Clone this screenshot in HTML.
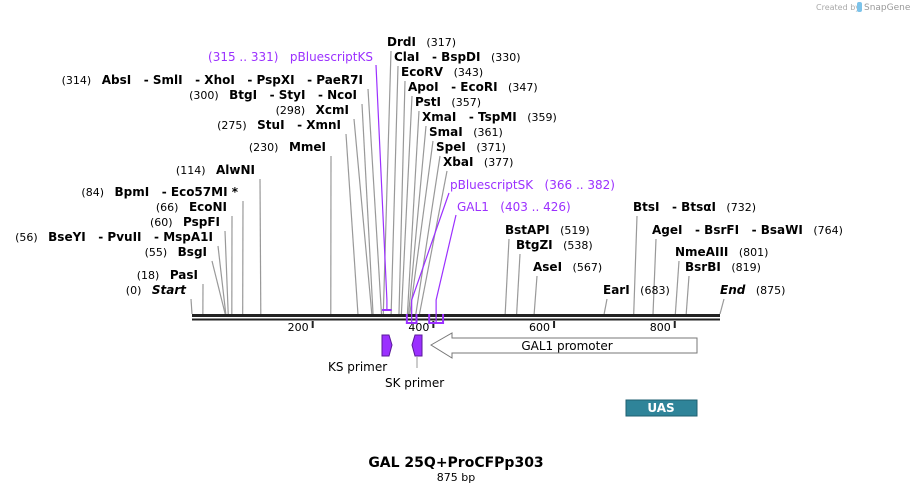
<!DOCTYPE html>
<html><head><meta charset="utf-8"><style>
body{margin:0;background:#fff;width:913px;height:493px;overflow:hidden}
svg{font-family:"DejaVu Sans","Liberation Sans",sans-serif}
text{white-space:pre}
.b{font-weight:bold;font-size:12px;fill:#000}
.n{font-size:11px;fill:#000}
.p{font-size:12px;fill:#9b30ff}
</style></head><body>
<svg id="map" width="913" height="493" viewBox="0 0 913 493">
<text x="816" y="10" font-size="8" fill="#aaa">Created by</text>
<rect x="857" y="2" width="5" height="10" rx="2" fill="#7cc3ea"/>
<text x="864" y="10" font-size="9" fill="#999">SnapGene</text>
<g id="lines"></g><g id="labels"></g>
<line x1="192" y1="315.5" x2="720" y2="315.5" stroke="#222" stroke-width="3"/>
<line x1="192" y1="319.5" x2="720" y2="319.5" stroke="#222" stroke-width="2"/>
<g id="ticks"></g>
<g id="features"></g>
<text x="456" y="467" text-anchor="middle" font-weight="bold" font-size="14">GAL 25Q+ProCFPp303</text>
<text x="456" y="481" text-anchor="middle" font-size="11">875 bp</text>
</svg>
<script>
const totalLen = 875;
const tickValues = [200, 400, 600, 800];
const siteNames = ["DrdI","ClaI - BspDI","AbsI - SmlI - XhoI - PspXI - PaeR7I","EcoRV","ApoI - EcoRI","BtgI - StyI - NcoI","PstI","XcmI","XmaI - TspMI","StuI - XmnI","SmaI","MmeI","SpeI","XbaI","AlwNI","BpmI - Eco57MI *","EcoNI","BtsI - BtsαI","PspFI","BstAPI","AgeI - BsrFI - BsaWI","BseYI - PvuII - MspA1I","BtgZI","BsgI","NmeAIII","AseI","BsrBI","PasI","Start","EarI","End"];
const sitePositions = [317,330,314,343,347,300,357,298,359,275,361,230,371,377,114,84,66,732,60,519,764,56,538,55,801,567,819,18,0,683,875];
// layout: [side, textX, baselineY]
const layout = [["R",387,46],["R",394,61],["L",363,84],["R",401,76],["R",408,91],["L",357,99],["R",415,106],["L",349,114],["R",422,121],["L",341,129],["R",429,136],["L",326,151],["R",436,151],["R",443,166],["L",255,174],["L",238,196],["L",227,211],["R",633,211],["L",220,226],["R",505,234],["R",652,234],["L",213,241],["R",516,249],["L",207,256],["R",675,256],["R",533,271],["R",685,271],["L",198,279],["L",186,294],["R",603,294],["R",720,294]];
const x0 = 192, x1 = 720;
const xs = bp => x0 + bp * (x1 - x0) / totalLen;
const NS = "http://www.w3.org/2000/svg";
function mk(tag, attrs, parent){const e=document.createElementNS(NS,tag);for(const k in attrs)e.setAttribute(k,attrs[k]);parent.appendChild(e);return e;}
const gL=document.getElementById('lines'), gT=document.getElementById('labels');
siteNames.forEach((nm,i)=>{
  const [side,tx,ty]=layout[i]; const bp=sitePositions[i]; const x=xs(bp);
  const italic = (nm==="Start"||nm==="End");
  const t=mk('text',{x:tx,y:ty},gT);
  
  
  const nmTxt = nm.replace(/ - /g,'   - ');
  if(side==="L"){
    t.setAttribute('text-anchor','end');
    const s1=document.createElementNS(NS,'tspan');s1.setAttribute('class','n');s1.textContent='('+bp+')   ';t.appendChild(s1);
    const s2=document.createElementNS(NS,'tspan');s2.setAttribute('class','b');if(italic)s2.setAttribute('font-style','italic');s2.textContent=nmTxt;t.appendChild(s2);
  } else {
    const s2=document.createElementNS(NS,'tspan');s2.setAttribute('class','b');if(italic)s2.setAttribute('font-style','italic');s2.textContent=nmTxt;t.appendChild(s2);
    const s1=document.createElementNS(NS,'tspan');s1.setAttribute('class','n');s1.textContent='   ('+bp+')';t.appendChild(s1);
  }
  const ax = side==="L" ? tx+5 : tx+4;
  const ln=mk('line',{x1:ax,y1:ty+5,x2:x,y2:314,stroke:'#999','stroke-width':1.2},gL);
  
  
});
const gK=document.getElementById('ticks');
tickValues.forEach(v=>{
  const x=xs(v);
  const l=mk('line',{x1:x,y1:321,x2:x,y2:328,stroke:'#222','stroke-width':2},gK);
  
  
  const t=mk('text',{x:x-4,y:331,'text-anchor':'end','font-size':11},gK);t.textContent=v;
  
  
});
const gF=document.getElementById('features');
const featNames=["pBluescriptKS","pBluescriptSK","GAL1"];
const featStart=[315,366,403], featEnd=[331,382,426];
const featLab=[["L",373,61],["R",450,189],["R",457,211]];
featNames.forEach((nm,i)=>{
  const a=xs(featStart[i])-(i>0?6:0), b=xs(featEnd[i])-(i>0?6:0); const [side,tx,ty]=featLab[i];
  const below = i>0; const by = below?323:310;
  const br=mk('polyline',{points:`${a},${below?314:by} ${a},${by} ${b},${by} ${b},${below?314:by}`,fill:'none',stroke:'#9b30ff','stroke-width':2},gF);
  
  
  const mid=(a+b)/2; const ax = side==="L"?tx+3:tx-1;
  const ln=mk('polyline',{points:`${ax},${ty+4} ${mid},300 ${mid},${by}`,fill:'none',stroke:'#9b30ff','stroke-width':1.2},gF);
  
  
  const t=mk('text',{x:tx,y:ty,class:'p','text-anchor':side==="L"?'end':'start'},gF);
  t.textContent = side==="L" ? `(${featStart[i]} .. ${featEnd[i]})   ${nm}` : `${nm}   (${featStart[i]} .. ${featEnd[i]})`;
  
  
});
</script>
<svg style="position:absolute;left:0;top:0" width="913" height="493">
<g font-family="DejaVu Sans, sans-serif">
<polygon points="382,335 389,335 392,345 389,356 382,356" fill="#9b30ff" stroke="#5a1a9a"/>
<text x="328" y="371" font-size="12">KS primer</text>
<polygon points="422,335 415,335 412,345 415,356 422,356" fill="#9b30ff" stroke="#5a1a9a"/>
<line x1="417" y1="357" x2="417" y2="368" stroke="#999"/>
<text x="385" y="387" font-size="12">SK primer</text>
<polygon points="431,345 452,333 452,338 697,338 697,353 452,353 452,358" fill="#fff" stroke="#777"/>
<text x="567" y="350" font-size="12" text-anchor="middle">GAL1 promoter</text>
<rect x="626" y="400" width="71" height="16" fill="#2f8499" stroke="#1f5f70"/>
<text x="661" y="412" font-size="12" font-weight="bold" fill="#fff" text-anchor="middle">UAS</text>
</g></svg>
</body></html>
